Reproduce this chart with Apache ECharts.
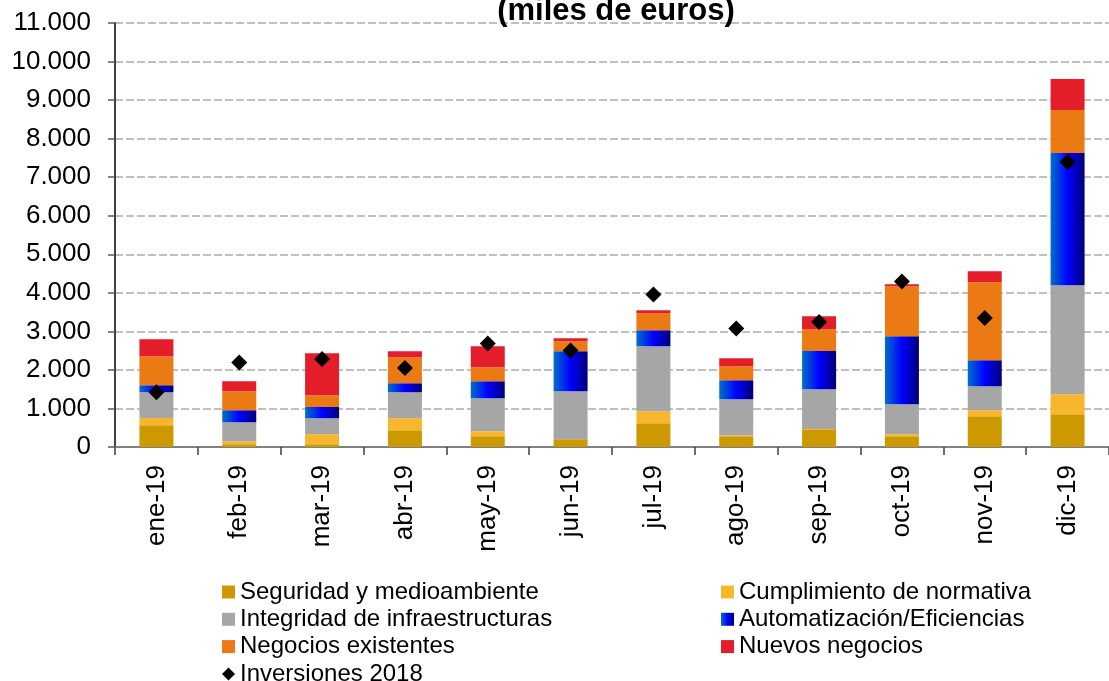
<!DOCTYPE html>
<html>
<head>
<meta charset="utf-8">
<script src="https://cdn.jsdelivr.net/npm/echarts@6/dist/echarts.min.js"></script>
<style>
html,body{margin:0;padding:0;background:#fff;}
#main{width:1109px;height:681px;}
</style>
</head>
<body>
<div id="main"></div>
<script>
var meses = ['ene-19','feb-19','mar-19','abr-19','may-19','jun-19','jul-19','ago-19','sep-19','oct-19','nov-19','dic-19'];
var seguridad = [563, 70, 70, 434, 278, 200, 615, 278, 441, 278, 797, 849];
var cumplimiento = [190, 78, 260, 311, 130, 0, 312, 26, 26, 52, 156, 519];
var integridad = [667, 493, 415, 675, 856, 1246, 1687, 934, 1031, 778, 623, 2830];
var automatizacion = [182, 312, 293, 234, 442, 1039, 416, 494, 994, 1766, 675, 3427];
var negocios = [753, 493, 304, 675, 363, 259, 441, 363, 563, 1298, 2025, 1116];
var nuevos = [441, 260, 1090, 156, 545, 78, 78, 208, 338, 52, 285, 805];
var inversiones2018 = [1420, 2191, 2285, 2051, 2684, 2503, 3956, 3074, 3245, 4294, 3349, 7391];

var fuente = 'Liberation Sans, Arial, sans-serif';
var dom = document.getElementById('main');
var myChart = echarts.init(dom);

function miles(v){
	return String(v).replace(/\B(?=(\d{3})+(?!\d))/g, '.');
}

var azul = new echarts.graphic.LinearGradient(0, 0, 1, 0, [
	{offset: 0, color: '#0070C8'},
	{offset: 0.5, color: '#0000FF'},
	{offset: 1, color: '#000078'}
]);

function barra(nombre, datos, color){
	return {
		name: nombre,
		type: 'bar',
		stack: 'total',
		barWidth: 34,
		data: datos,
		itemStyle: {color: color},
		emphasis: {disabled: true}
	};
}

// dos columnas de leyenda, como en el original
var leyendaBase = {
	orient: 'vertical',
	top: 580,
	height: 200,
	padding: 0,
	itemWidth: 13,
	itemHeight: 13,
	itemGap: 3.3,
	textStyle: {fontFamily: fuente, fontSize: 24, color: '#000'}
};

option = {
	animation: false,
	title: {
		text: '(miles de euros)',
		left: 611,
		textAlign: 'center',
		top: -9,
		textStyle: {fontFamily: fuente, fontSize: 31, fontWeight: 'bold', color: '#000'}
	},
	legend: [
		Object.assign({}, leyendaBase, {
			left: 222,
			data: [
				{name: 'Seguridad y medioambiente', icon: 'rect'},
				{name: 'Integridad de infraestructuras', icon: 'rect'},
				{name: 'Negocios existentes', icon: 'rect'},
				{name: 'Inversiones 2018', icon: 'diamond'}
			]
		}),
		Object.assign({}, leyendaBase, {
			left: 721,
			data: [
				{name: 'Cumplimiento de normativa', icon: 'rect'},
				{name: 'Automatización/Eficiencias', icon: 'rect'},
				{name: 'Nuevos negocios', icon: 'rect'}
			]
		})
	],
	grid: {left: 115, top: 23, width: 1001, height: 424},
	xAxis: {
		type: 'category',
		data: meses,
		axisLine: {lineStyle: {color: '#808080', width: 2}},
		axisTick: {show: true, length: 8, lineStyle: {color: '#404040', width: 1.5}},
		axisLabel: {rotate: 90, margin: 18, fontFamily: fuente, fontSize: 26, color: '#000'}
	},
	yAxis: {
		type: 'value',
		min: 0,
		max: 11000,
		interval: 1000,
		axisLine: {show: true, lineStyle: {color: '#000', width: 1.5}},
		axisTick: {show: true, length: 7, lineStyle: {color: '#595959', width: 1.5}},
		axisLabel: {margin: 24, fontFamily: fuente, fontSize: 26, color: '#000', formatter: miles},
		splitLine: {lineStyle: {color: '#C0C0C0', width: 2, type: [8, 3]}}
	},
	series: [
		barra('Seguridad y medioambiente', seguridad, '#CC9900'),
		barra('Cumplimiento de normativa', cumplimiento, '#F8B62E'),
		barra('Integridad de infraestructuras', integridad, '#A6A6A6'),
		barra('Automatización/Eficiencias', automatizacion, azul),
		barra('Negocios existentes', negocios, '#EC7A14'),
		barra('Nuevos negocios', nuevos, '#E31E2A'),
		{
			name: 'Inversiones 2018',
			type: 'scatter',
			symbol: 'diamond',
			symbolSize: 16,
			z: 5,
			data: inversiones2018,
			itemStyle: {color: '#000', opacity: 1}
		}
	]
};
myChart.setOption(option, true);
</script>
</body>
</html>
